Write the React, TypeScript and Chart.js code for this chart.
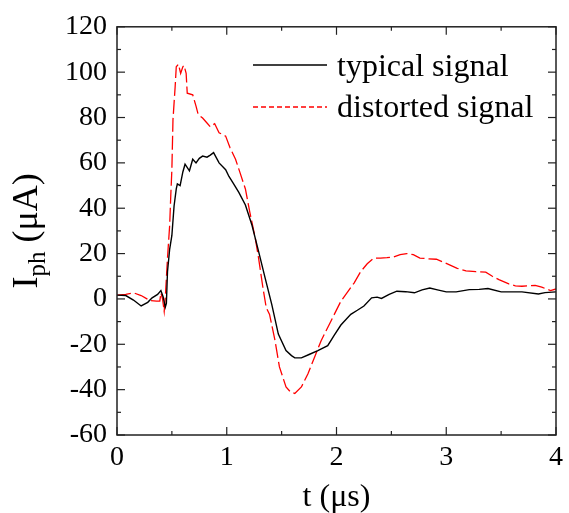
import React, { useEffect, useRef } from "react";
import { Chart, registerables } from "chart.js";

Chart.register(...registerables);

const X_MIN = 0;
const X_MAX = 4;
const X_MAJOR = 1;
const X_MINOR = 0.5;
const Y_MIN = -60;
const Y_MAX = 120;
const Y_MAJOR = 20;
const Y_MINOR = 10;

const LEGEND_LABELS = ["typical signal", "distorted signal"];
const X_TITLE = "t (\u03bcs)";
const Y_TITLE_MAIN = "I";
const Y_TITLE_SUB = "ph";
const Y_TITLE_REST = " (\u03bcA)";

const tTypical = [0, 0.08, 0.15, 0.22, 0.28, 0.32, 0.37, 0.4, 0.42, 0.44, 0.45, 0.46, 0.48, 0.5, 0.52, 0.54, 0.55, 0.575, 0.6, 0.62, 0.66, 0.69, 0.72, 0.75, 0.78, 0.82, 0.85, 0.88, 0.93, 0.99, 1.02, 1.06, 1.11, 1.17, 1.23, 1.29, 1.35, 1.41, 1.47, 1.54, 1.59, 1.62, 1.68, 1.75, 1.83, 1.92, 1.98, 2.04, 2.13, 2.19, 2.25, 2.32, 2.37, 2.41, 2.48, 2.55, 2.63, 2.71, 2.78, 2.85, 2.92, 3.0, 3.09, 3.21, 3.3, 3.38, 3.5, 3.6, 3.69, 3.84, 3.9, 4.0];
const iTypical = [1.7, 1.5, -0.5, -3.1, -1.5, 0.5, 2, 3.7, 1, -3.6, -2, 12, 22, 28, 41, 48.5, 50.7, 50, 56, 59.4, 56.5, 61.6, 60, 62, 63, 62.5, 63.4, 64.5, 60, 57, 54, 51, 47, 41.4, 32.5, 21, 9.2, -2.4, -15.5, -22.8, -25, -26, -26, -24.5, -22.8, -20.6, -16, -11.5, -6.8, -5, -3.1, 0.5, 0.8, 0.2, 2, 3.4, 3.2, 2.7, 4, 4.8, 4, 3.1, 3.1, 4.1, 4.2, 4.6, 3.1, 3.1, 3.1, 2.2, 2.8, 3.1];

const tDistorted = [0, 0.08, 0.15, 0.22, 0.3, 0.36, 0.39, 0.4, 0.415, 0.43, 0.44, 0.46, 0.48, 0.49, 0.5, 0.51, 0.53, 0.54, 0.56, 0.58, 0.6, 0.61, 0.63, 0.64, 0.69, 0.72, 0.74, 0.78, 0.82, 0.85, 0.89, 0.93, 0.99, 1.03, 1.08, 1.12, 1.15, 1.17, 1.21, 1.26, 1.29, 1.33, 1.36, 1.39, 1.44, 1.48, 1.54, 1.58, 1.62, 1.68, 1.74, 1.8, 1.86, 1.95, 2.04, 2.1, 2.16, 2.22, 2.28, 2.34, 2.4, 2.46, 2.52, 2.58, 2.64, 2.7, 2.76, 2.84, 2.91, 2.97, 3.03, 3.1, 3.18, 3.27, 3.36, 3.42, 3.48, 3.57, 3.63, 3.69, 3.75, 3.81, 3.87, 3.95, 4.0];
const iDistorted = [1.7, 2, 2.7, 1.5, -0.7, -1, -1, 2.7, 0, -5.5, 0.5, 18, 32.5, 45.6, 57, 79, 93.7, 102.4, 103.5, 99.5, 102.4, 103, 99.5, 90.7, 90, 85, 81.3, 79.8, 77.6, 75.9, 77.3, 73.3, 71.8, 66.7, 61.6, 55.8, 51.4, 48.5, 38.3, 26.7, 18, 4.8, -3.9, -6.8, -18.4, -30, -38.8, -41, -41.7, -38.8, -33, -25.7, -18.4, -9.7, -1, 3, 7, 12, 15.5, 18, 18, 18.2, 18.5, 19.5, 20, 19.5, 18, 17.7, 17.5, 16.3, 15, 13.5, 12.4, 12, 11.8, 10, 8.5, 6.6, 5.8, 5.6, 5.8, 6, 5.2, 3.7, 4.4];

const SERIF = "'Liberation Serif', 'Times New Roman', 'DejaVu Serif', serif";
const BLACK = "#000000";
const RED = "#ff0000";

const framePlugin = {
  id: "framePlugin",
  afterDraw(chart: any) {
    const { ctx, chartArea: a, scales } = chart;
    const xs = scales.x;
    const ys = scales.y;
    ctx.save();
    ctx.strokeStyle = "#222";
    ctx.lineWidth = 1.5;
    ctx.strokeRect(a.left, a.top, a.right - a.left, a.bottom - a.top);
    ctx.lineWidth = 1.2;
    const seg = (x1: number, y1: number, x2: number, y2: number) => {
      ctx.beginPath();
      ctx.moveTo(x1, y1);
      ctx.lineTo(x2, y2);
      ctx.stroke();
    };
    for (let v = X_MIN; v <= X_MAX + 1e-9; v += X_MINOR) {
      const px = xs.getPixelForValue(v);
      const major = Math.abs(v / X_MAJOR - Math.round(v / X_MAJOR)) < 1e-6;
      const len = major ? 8 : 4;
      seg(px, a.bottom, px, a.bottom - len);
      seg(px, a.top, px, a.top + len);
    }
    for (let v = Y_MIN; v <= Y_MAX + 1e-9; v += Y_MINOR) {
      const py = ys.getPixelForValue(v);
      const major = Math.abs(v / Y_MAJOR - Math.round(v / Y_MAJOR)) < 1e-6;
      const len = major ? 8 : 4;
      seg(a.left, py, a.left + len, py);
      seg(a.right, py, a.right - len, py);
    }

    // legend
    ctx.font = `32px ${SERIF}`;
    ctx.fillStyle = "#000";
    ctx.textBaseline = "alphabetic";
    ctx.textAlign = "left";
    ctx.strokeStyle = BLACK;
    ctx.lineWidth = 1.3;
    seg(253, 65, 327, 65);
    ctx.fillText(LEGEND_LABELS[0], 337, 76);
    ctx.strokeStyle = RED;
    ctx.setLineDash([5, 3]);
    seg(253, 107, 327, 107);
    ctx.setLineDash([]);
    ctx.fillText(LEGEND_LABELS[1], 337, 117);

    // x title
    ctx.font = `32px ${SERIF}`;
    ctx.textAlign = "center";
    ctx.fillText(X_TITLE, (a.left + a.right) / 2, 506);

    // y title (rotated, with subscript)
    const cy = (a.top + a.bottom) / 2;
    ctx.translate(37, cy);
    ctx.rotate(-Math.PI / 2);
    const mainFont = `36px ${SERIF}`;
    const subFont = `25px ${SERIF}`;
    ctx.font = mainFont;
    const w1 = ctx.measureText(Y_TITLE_MAIN).width;
    const w3 = ctx.measureText(Y_TITLE_REST).width;
    ctx.font = subFont;
    const w2 = ctx.measureText(Y_TITLE_SUB).width;
    let x0 = -(w1 + w2 + w3) / 2;
    ctx.textAlign = "left";
    ctx.font = mainFont;
    ctx.fillText(Y_TITLE_MAIN, x0, 0);
    x0 += w1;
    ctx.font = subFont;
    ctx.fillText(Y_TITLE_SUB, x0, 8);
    x0 += w2;
    ctx.font = mainFont;
    ctx.fillText(Y_TITLE_REST, x0, 0);
    ctx.restore();
  },
};

export default function App() {
  const ref = useRef<HTMLCanvasElement | null>(null);
  useEffect(() => {
    document.body.style.margin = "0";
    document.body.style.overflow = "hidden";
    const canvas = ref.current;
    if (!canvas) return;
    let chart: Chart | null = null;
    let cancelled = false;
    const toPts = (ts: number[], vs: number[]) => ts.map((t, i) => ({ x: t, y: vs[i] }));
    const build = () => {
      if (cancelled) return;
      chart = new Chart(canvas, {
        type: "line",
        data: {
          datasets: [
            {
              label: LEGEND_LABELS[0],
              data: toPts(tTypical, iTypical),
              borderColor: BLACK,
              borderWidth: 1.4,
              pointRadius: 0,
              tension: 0,
              fill: false,
            },
            {
              label: LEGEND_LABELS[1],
              data: toPts(tDistorted, iDistorted),
              borderColor: RED,
              borderWidth: 1.3,
              borderDash: [14, 4],
              pointRadius: 0,
              tension: 0,
              fill: false,
            },
          ],
        },
        options: {
          responsive: false,
          animation: false,
          devicePixelRatio: 1,
          layout: { padding: { top: 23, right: 8, left: 0, bottom: 0 } },
          plugins: { legend: { display: false }, tooltip: { enabled: false } },
          scales: {
            x: {
              type: "linear",
              min: X_MIN,
              max: X_MAX,
              grid: { display: false, drawTicks: false },
              border: { display: false },
              ticks: {
                stepSize: X_MAJOR,
                padding: 6,
                color: "#000",
                font: { family: SERIF, size: 28 },
                maxRotation: 0,
              },
              afterFit: (s: any) => {
                s.height = 78;
              },
            },
            y: {
              type: "linear",
              min: Y_MIN,
              max: Y_MAX,
              grid: { display: false, drawTicks: false },
              border: { display: false },
              ticks: {
                stepSize: Y_MAJOR,
                padding: 10,
                color: "#000",
                font: { family: SERIF, size: 28 },
              },
              afterFit: (s: any) => {
                s.width = 117;
              },
            },
          },
        },
        plugins: [framePlugin],
      });
    };
    const fonts: any = (document as any).fonts;
    if (fonts && fonts.load) {
      Promise.all([
        fonts.load(`28px 'Liberation Serif'`, "0123456789"),
        fonts.load(`28px 'Liberation Serif'`, "typical signal \u03bc"),
      ])
        .catch(() => {})
        .then(build);
    } else {
      build();
    }
    return () => {
      cancelled = true;
      if (chart) chart.destroy();
    };
  }, []);
  return <canvas ref={ref} width={569} height={513} style={{ display: "block" }} />;
}
